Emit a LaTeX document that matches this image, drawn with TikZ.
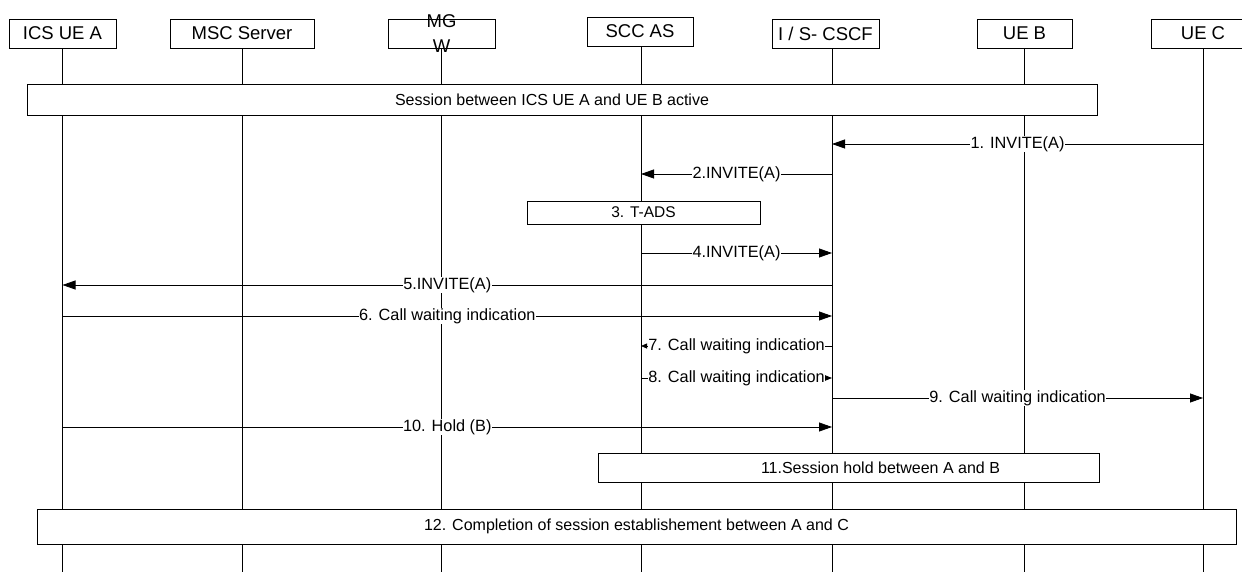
\documentclass[tikz,border=0pt]{standalone}
\usepackage{fontspec}
\setmainfont{Liberation Sans}
\usetikzlibrary{arrows.meta}

\begin{document}
\begin{tikzpicture}[x=1pt, y=-1pt, >={Triangle[length=13pt,width=9pt]},
  hdr/.style={draw, line width=0.9pt, minimum height=29pt, inner sep=0pt, font=\fontsize{18.5}{21}\selectfont},
  bar/.style={draw, fill=white, line width=0.9pt, inner sep=0pt, font=\fontsize{16}{19}\selectfont},
  msg/.style={->, line width=0.8pt},
  lab/.style={fill=white, inner sep=0.5pt, font=\fontsize{16.3}{19}\selectfont}]
\useasboundingbox (0,0) rectangle (1242,572);
% entities
\node[hdr, minimum width=107pt] (uea) at (62.5,33.5) {ICS UE A};
\node[hdr, minimum width=144pt] (msc) at (242,33.5) {MSC Server};
\node[hdr, minimum width=107pt] (mgw) at (441.5,33.5) {};
\node[align=center, inner sep=0pt, font=\fontsize{18.5}{25}\selectfont] at (mgw) {MG\\W};
\node[hdr, minimum width=106pt] (scc) at (640,31.5) {SCC AS};
\node[hdr, minimum width=107pt] (cscf) at (825.5,33.5) {I / S- CSCF};
\node[hdr, minimum width=95pt] (ueb) at (1024.5,33.5) {UE B};
\node[hdr, minimum width=104pt] (uec) at (1203,33.5) {UE C};
% lifelines
\coordinate (uea-b) at (uea |- 0,572);
\coordinate (msc-b) at (msc |- 0,572);
\coordinate (mgw-b) at (mgw |- 0,572);
\coordinate (scc-b) at (641,572);
\coordinate (cscf-b) at (832,572);
\coordinate (ueb-b) at (ueb |- 0,572);
\coordinate (uec-b) at (uec |- 0,572);
\draw[line width=0.8pt] (uea) -- (uea-b);
\draw[line width=0.8pt] (msc) -- (msc-b);
\draw[line width=0.8pt] (mgw) -- (mgw-b);
\draw[line width=0.8pt] (scc-b |- scc.south) -- (scc-b);
\draw[line width=0.8pt] (cscf-b |- cscf.south) -- (cscf-b);
\draw[line width=0.8pt] (ueb) -- (ueb-b);
\draw[line width=0.8pt] (uec) -- (uec-b);
% boxes
\node[bar, minimum width=1070pt, minimum height=31pt] (sess) at (562,99.5) {\hspace*{-20pt}Session between ICS UE A and UE B active};
\node[bar, minimum width=233pt, minimum height=23pt, font=\fontsize{15.5}{18}\selectfont] (tads) at (643.5,212.5) {3. T-ADS};
\node[bar, minimum width=501pt, minimum height=29pt] (hold) at (848.5,467.5) {\hspace*{64pt}11.Session hold between A and B};
\node[bar, minimum width=1199pt, minimum height=35pt] (done) at (636.5,526.5) {12. Completion of session establishement between A and C};
% messages
\draw[msg] (uec-b |- 0,144) -- node[lab] {1. INVITE(A)} (cscf-b |- 0,144);
\draw[msg] (cscf-b |- 0,174) -- node[lab] {2.INVITE(A)} (scc-b |- 0,174);
\draw[msg] (scc-b |- 0,253) -- node[lab] {4.INVITE(A)} (cscf-b |- 0,253);
\draw[msg] (cscf-b |- 0,285) -- node[lab] {5.INVITE(A)} (uea-b |- 0,285);
\draw[msg] (uea-b |- 0,316) -- node[lab] {6. Call waiting indication} (cscf-b |- 0,316);
\draw[msg, >={Triangle[length=6pt,width=5pt]}] (cscf-b |- 0,346) -- node[lab] {7. Call waiting indication} (scc-b |- 0,346);
\draw[msg, >={Triangle[length=9pt,width=7pt]}] (scc-b |- 0,378) -- node[lab] {8. Call waiting indication} (cscf-b |- 0,378);
\draw[msg] (cscf-b |- 0,398) -- node[lab] {9. Call waiting indication} (uec-b |- 0,398);
\draw[msg] (uea-b |- 0,427) -- node[lab] {10. Hold (B)} (cscf-b |- 0,427);
\end{tikzpicture}
\end{document}
